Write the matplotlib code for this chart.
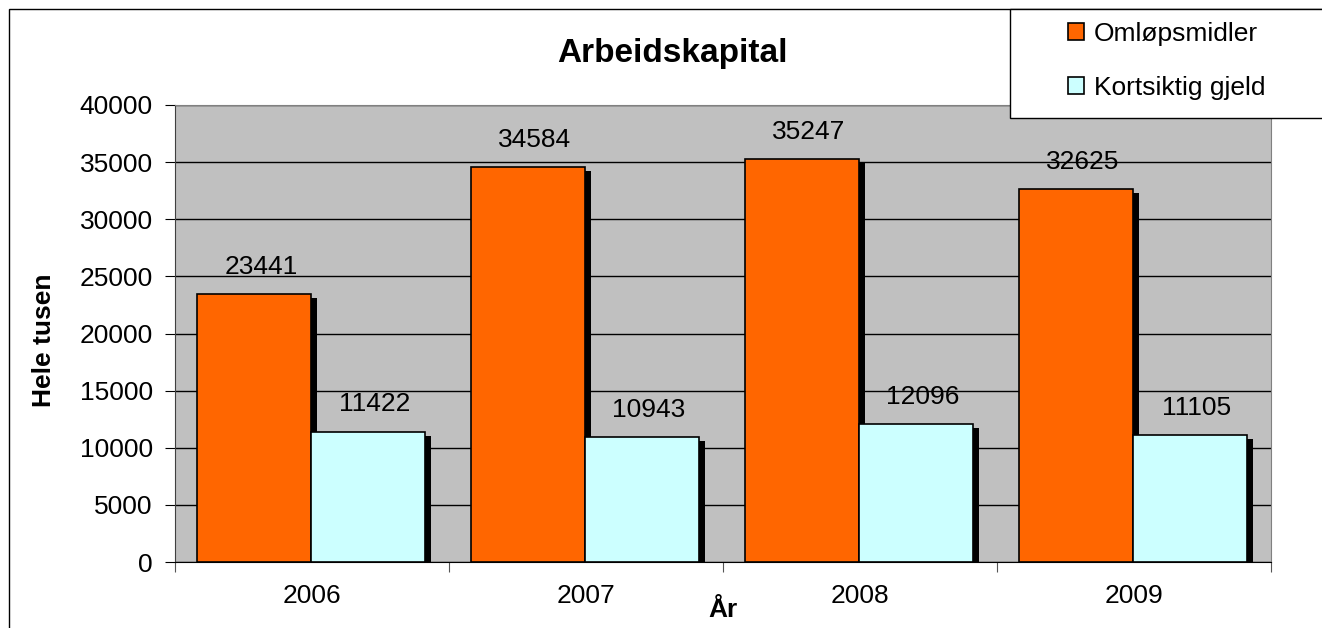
import matplotlib
matplotlib.use("Agg")
import matplotlib.pyplot as plt
import matplotlib.patheffects as pe
from matplotlib.patches import Rectangle
import numpy as np

plt.rcParams['font.family'] = ['Liberation Sans', 'DejaVu Sans']

years = ["2006", "2007", "2008", "2009"]
omlop = [23441, 34584, 35247, 32625]
kortsiktig = [11422, 10943, 12096, 11105]
series_names = ["Omløpsmidler", "Kortsiktig gjeld"]

orange = "#FF6600"
cyan = "#CCFFFF"

fig = plt.figure(figsize=(13.22, 6.28), dpi=100)
ax = fig.add_axes([175 / 1322, 66 / 628, 1096 / 1322, 457 / 628])
ax.set_facecolor("#C0C0C0")

x = np.arange(len(years))
w = 0.416
shadow = [pe.SimplePatchShadow(offset=(4.6, -3), shadow_rgbFace="black", alpha=1.0), pe.Normal()]

b1 = ax.bar(x - 0.212, omlop, w, color=orange, edgecolor="black", linewidth=1.2, zorder=3)
b2 = ax.bar(x + 0.204, kortsiktig, w, color=cyan, edgecolor="black", linewidth=1.2, zorder=3)
for b in list(b1) + list(b2):
    b.set_path_effects(shadow)

for bars, vals in [(b1, omlop), (b2, kortsiktig)]:
    for b, v in zip(bars, vals):
        ax.annotate(str(v), (b.get_x() + b.get_width() / 2, v), xytext=(5, 14.5),
                    textcoords="offset points", ha="center", va="baseline",
                    fontsize=19, zorder=4)

ax.set_xlim(-0.5, 3.5)
ax.set_ylim(0, 40000)
ax.set_yticks(range(0, 40001, 5000))
ax.yaxis.grid(True, color="black", linewidth=1)
ax.set_axisbelow(True)

ax.set_xticks(np.arange(-0.5, 4, 1))
ax.set_xticklabels([])
ax.set_xticks(x, minor=True)
ax.set_xticklabels(years, minor=True)
ax.tick_params(axis="x", which="major", direction="out", length=7, color="#555555")
ax.tick_params(axis="x", which="minor", length=0, pad=16, labelsize=19)
ax.tick_params(axis="y", direction="out", length=7, pad=9, labelsize=19)

for s in ["top", "right"]:
    ax.spines[s].set_color("#808080")
ax.spines["left"].set_color("#404040")
ax.spines["bottom"].set_color("black")

# title sits left of centre, clear of the legend box
fig.text(672 / 1322, 1 - 62 / 628, "Arbeidskapital", fontsize=24, fontweight="bold",
         ha="center", va="baseline")
ax.set_xlabel("År", fontsize=19, fontweight="bold")
ax.xaxis.set_label_coords(0.5, -0.105)
ax.xaxis.label.set_va("center")
ax.set_ylabel("Hele tusen", fontsize=19, fontweight="bold")
ax.yaxis.set_label_coords(-0.1196, 0.485)
ax.yaxis.label.set_va("center")

# outer chart border
fig.patches.append(Rectangle((9 / 1322, -0.1), 1.2, 1.1 - 9 / 628, transform=fig.transFigure,
                             facecolor="none", edgecolor="black", linewidth=1))
# legend box
fig.patches.append(Rectangle((1010 / 1322, 1 - 118 / 628), 0.3, 109 / 628, transform=fig.transFigure,
                             facecolor="white", edgecolor="black", linewidth=1, zorder=5))
leg = fig.legend([b1, b2], series_names, loc="center left", bbox_to_anchor=(1044 / 1322, 1 - 61 / 628),
                 frameon=False, fontsize=19, handlelength=0.6, handleheight=0.6, handletextpad=0.4,
                 labelspacing=1.15)
leg.set_zorder(6)
for h in leg.legend_handles:
    h.set_path_effects([])

fig.savefig("out.png", dpi=100)
